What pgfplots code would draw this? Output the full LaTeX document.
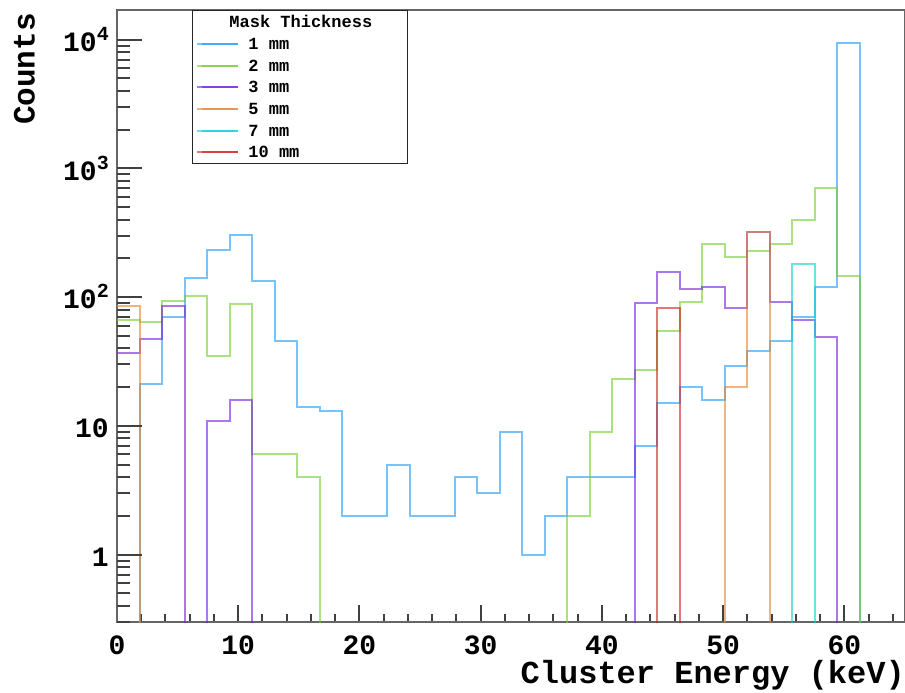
\documentclass[border=0pt]{standalone}
\usepackage{fontspec}
\setmainfont{Liberation Mono}
\usepackage{pgfplots}
\usepackage{pgfplotstable}
\pgfplotsset{compat=1.18}

\definecolor{c1}{RGB}{30,155,250}
\definecolor{c2}{RGB}{113,205,47}
\definecolor{c3}{RGB}{113,30,222}
\definecolor{c5}{RGB}{230,130,47}
\definecolor{c7}{RGB}{13,205,213}
\definecolor{c10}{RGB}{205,30,30}

% bin left edge, counts per mask thickness (0.01 = empty bin, below ymin)
\pgfplotstableread{
x      b1    b2    b3    b5    b7    b10
0.000  0.01  66    37    86    0.01  0.01
1.857  21    64    47    0.01  0.01  0.01
3.714  70    94    86    0.01  0.01  0.01
5.571  142   102   0.01  0.01  0.01  0.01
7.429  233   35    11    0.01  0.01  0.01
9.286  305   88    16    0.01  0.01  0.01
11.143 133   6     0.01  0.01  0.01  0.01
13.000 46    6     0.01  0.01  0.01  0.01
14.857 14    4     0.01  0.01  0.01  0.01
16.714 13    0.01  0.01  0.01  0.01  0.01
18.571 2     0.01  0.01  0.01  0.01  0.01
20.429 2     0.01  0.01  0.01  0.01  0.01
22.286 5     0.01  0.01  0.01  0.01  0.01
24.143 2     0.01  0.01  0.01  0.01  0.01
26.000 2     0.01  0.01  0.01  0.01  0.01
27.857 4     0.01  0.01  0.01  0.01  0.01
29.714 3     0.01  0.01  0.01  0.01  0.01
31.571 9     0.01  0.01  0.01  0.01  0.01
33.429 1     0.01  0.01  0.01  0.01  0.01
35.286 2     0.01  0.01  0.01  0.01  0.01
37.143 4     2     0.01  0.01  0.01  0.01
39.000 4     9     0.01  0.01  0.01  0.01
40.857 4     23    0.01  0.01  0.01  0.01
42.714 7     27    90    0.01  0.01  0.01
44.571 15    55    157   0.01  0.01  82
46.429 20    92    115   0.01  0.01  0.01
48.286 16    258   121   0.01  0.01  0.01
50.143 29    205   83    20    0.01  0.01
52.000 38    230   320   320   0.01  0.01
53.857 46    258   92    0.01  0.01  0.01
55.714 70    400   67    0.01  180   0.01
57.571 119   700   49    0.01  0.01  0.01
59.429 9500  147   0.01  0.01  0.01  0.01
61.286 0.01  0.01  0.01  0.01  0.01  0.01
63.143 0.01  0.01  0.01  0.01  0.01  0.01
65.000 0.01  0.01  0.01  0.01  0.01  0.01
}\histdata

\pgfplotsset{
  hist/.style={const plot, no markers, line width=2pt, draw opacity=0.6, #1},
  every tick/.append style={black!75, line width=2pt},
  every major tick/.append style={black!75, line width=2pt},
  every minor tick/.append style={black!75, line width=2pt},
}

\begin{document}
\begin{tikzpicture}
\useasboundingbox (-117pt,-71pt) rectangle (788pt,622pt);
\begin{axis}[
  at={(0,0)}, anchor=south west,
  width=788pt, height=612pt, scale only axis,
  xmin=0, xmax=65, ymin=0.3, ymax=17000, ymode=log,
  axis line style={draw=black!60, line width=1.6pt},
  tick align=inside, xtick pos=left,
  ytick=\empty,
  xtick={0,10,20,30,40,50,60},
  xticklabels={0,10,20,30,40,50,60},
  minor xtick={2,4,6,8,12,14,16,18,22,24,26,28,32,34,36,38,42,44,46,48,52,54,56,58,62,64},
  major tick length=17pt, minor tick length=8pt,
  xticklabel style={font=\fontsize{28}{28}\selectfont\bfseries, inner sep=0pt, yshift=-13.5pt},
  xlabel={Cluster Energy (keV)},
  xlabel style={at={(axis description cs:1,-0.0997)}, anchor=base east, inner sep=0pt,
                font=\fontsize{32}{32}\selectfont\bfseries},
  legend cell align=left,
  legend style={at={(axis description cs:0.0948,1)}, anchor=north west,
    draw=black!85, line width=1.4pt, fill=white, inner sep=4pt,
    font=\fontsize{17}{17}\selectfont\bfseries,
    row sep=6.67pt,
    nodes={inner sep=0pt, text height=13pt, text depth=2pt},
    /tikz/every odd column/.append style={column sep=9pt}},
  legend image code/.code={
    \path (0pt,0pt) -- (41pt,0pt);
    \draw[#1, line width=2pt] (4.3pt,0pt) -- (41pt,0pt);},
]
\addlegendimage{empty legend}
\addlegendentry{\makebox[155pt][l]{\hspace*{-19pt}Mask Thickness}}
\addplot[hist=c1] table[x=x, y=b1] {\histdata};
\addlegendentry{1 mm}
\addplot[hist=c2] table[x=x, y=b2] {\histdata};
\addlegendentry{2 mm}
\addplot[hist=c3] table[x=x, y=b3] {\histdata};
\addlegendentry{3 mm}
\addplot[hist=c5] table[x=x, y=b5] {\histdata};
\addlegendentry{5 mm}
\addplot[hist=c7] table[x=x, y=b7] {\histdata};
\addlegendentry{7 mm}
\addplot[hist=c10] table[x=x, y=b10] {\histdata};
\addlegendentry{10 mm}
\end{axis}
\begin{axis}[
  at={(0,0)}, anchor=south west,
  width=788pt, height=612pt, scale only axis,
  xmin=0, xmax=65, ymin=0.3, ymax=17000, ymode=log,
  axis line style={draw=none},
  tick align=inside, ytick pos=left,
  xtick=\empty,
  ytick={1,10,100,1000,10000},
  yticklabels={1,10,
    10\raisebox{11pt}{\fontsize{20}{20}\selectfont 2},
    10\raisebox{11pt}{\fontsize{20}{20}\selectfont 3},
    10\raisebox{11pt}{\fontsize{20}{20}\selectfont 4}},
  minor ytick={0.3,0.4,0.5,0.6,0.7,0.8,0.9,2,3,4,5,6,7,8,9,20,30,40,50,60,70,80,90,200,300,400,500,600,700,800,900,2000,3000,4000,5000,6000,7000,8000,9000},
  major tick length=25pt, minor tick length=13pt,
  yticklabel style={font=\fontsize{28}{28}\selectfont\bfseries, inner sep=0pt,
                    anchor=base east, xshift=-8pt, yshift=-11.75pt},
  ylabel={Counts},
  ylabel style={at={(axis description cs:-0.104,0.995)}, anchor=south east, inner sep=0pt,
                font=\fontsize{31}{31}\selectfont\bfseries},
]
\end{axis}
\end{tikzpicture}
\end{document}
